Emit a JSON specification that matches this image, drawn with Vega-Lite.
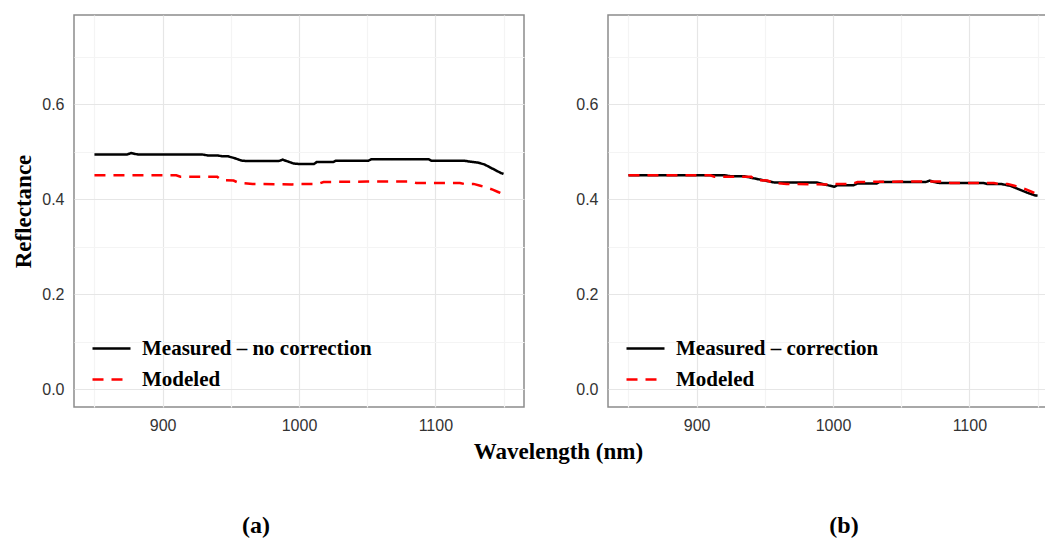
{
  "$schema": "https://vega.github.io/schema/vega-lite/v6.json",
  "background": "white",
  "padding": {"left": 12, "top": 14, "right": 0, "bottom": 0},
  "datasets": {
    "left": [
      {"series": "Measured – no correction", "wl": 850, "r": 0.494},
      {"series": "Measured – no correction", "wl": 874, "r": 0.494},
      {"series": "Measured – no correction", "wl": 877, "r": 0.497},
      {"series": "Measured – no correction", "wl": 880, "r": 0.495},
      {"series": "Measured – no correction", "wl": 882, "r": 0.494},
      {"series": "Measured – no correction", "wl": 929, "r": 0.494},
      {"series": "Measured – no correction", "wl": 933, "r": 0.492},
      {"series": "Measured – no correction", "wl": 940, "r": 0.492},
      {"series": "Measured – no correction", "wl": 944, "r": 0.490},
      {"series": "Measured – no correction", "wl": 948, "r": 0.490},
      {"series": "Measured – no correction", "wl": 953, "r": 0.486},
      {"series": "Measured – no correction", "wl": 958, "r": 0.481},
      {"series": "Measured – no correction", "wl": 962, "r": 0.480},
      {"series": "Measured – no correction", "wl": 985, "r": 0.480},
      {"series": "Measured – no correction", "wl": 988, "r": 0.483},
      {"series": "Measured – no correction", "wl": 991, "r": 0.480},
      {"series": "Measured – no correction", "wl": 996, "r": 0.475},
      {"series": "Measured – no correction", "wl": 1000, "r": 0.474},
      {"series": "Measured – no correction", "wl": 1011, "r": 0.474},
      {"series": "Measured – no correction", "wl": 1013, "r": 0.478},
      {"series": "Measured – no correction", "wl": 1025, "r": 0.478},
      {"series": "Measured – no correction", "wl": 1027, "r": 0.481},
      {"series": "Measured – no correction", "wl": 1051, "r": 0.481},
      {"series": "Measured – no correction", "wl": 1053, "r": 0.484},
      {"series": "Measured – no correction", "wl": 1095, "r": 0.484},
      {"series": "Measured – no correction", "wl": 1097, "r": 0.481},
      {"series": "Measured – no correction", "wl": 1121, "r": 0.481},
      {"series": "Measured – no correction", "wl": 1125, "r": 0.479},
      {"series": "Measured – no correction", "wl": 1131, "r": 0.477},
      {"series": "Measured – no correction", "wl": 1136, "r": 0.473},
      {"series": "Measured – no correction", "wl": 1140, "r": 0.467},
      {"series": "Measured – no correction", "wl": 1144, "r": 0.461},
      {"series": "Measured – no correction", "wl": 1148, "r": 0.455},
      {"series": "Measured – no correction", "wl": 1150, "r": 0.453},
      {"series": "Modeled", "wl": 850, "r": 0.450},
      {"series": "Modeled", "wl": 910, "r": 0.450},
      {"series": "Modeled", "wl": 913, "r": 0.447},
      {"series": "Modeled", "wl": 940, "r": 0.447},
      {"series": "Modeled", "wl": 943, "r": 0.440},
      {"series": "Modeled", "wl": 952, "r": 0.439},
      {"series": "Modeled", "wl": 956, "r": 0.434},
      {"series": "Modeled", "wl": 966, "r": 0.432},
      {"series": "Modeled", "wl": 995, "r": 0.431},
      {"series": "Modeled", "wl": 1000, "r": 0.432},
      {"series": "Modeled", "wl": 1014, "r": 0.432},
      {"series": "Modeled", "wl": 1018, "r": 0.436},
      {"series": "Modeled", "wl": 1050, "r": 0.437},
      {"series": "Modeled", "wl": 1082, "r": 0.437},
      {"series": "Modeled", "wl": 1086, "r": 0.434},
      {"series": "Modeled", "wl": 1118, "r": 0.434},
      {"series": "Modeled", "wl": 1121, "r": 0.432},
      {"series": "Modeled", "wl": 1128, "r": 0.432},
      {"series": "Modeled", "wl": 1133, "r": 0.428},
      {"series": "Modeled", "wl": 1138, "r": 0.424},
      {"series": "Modeled", "wl": 1142, "r": 0.420},
      {"series": "Modeled", "wl": 1146, "r": 0.415},
      {"series": "Modeled", "wl": 1150, "r": 0.410}
    ],
    "right": [
      {"series": "Measured – correction", "wl": 850, "r": 0.450},
      {"series": "Measured – correction", "wl": 921, "r": 0.450},
      {"series": "Measured – correction", "wl": 925, "r": 0.448},
      {"series": "Measured – correction", "wl": 935, "r": 0.448},
      {"series": "Measured – correction", "wl": 945, "r": 0.442},
      {"series": "Measured – correction", "wl": 957, "r": 0.435},
      {"series": "Measured – correction", "wl": 988, "r": 0.435},
      {"series": "Measured – correction", "wl": 995, "r": 0.430},
      {"series": "Measured – correction", "wl": 1001, "r": 0.426},
      {"series": "Measured – correction", "wl": 1003, "r": 0.429},
      {"series": "Measured – correction", "wl": 1015, "r": 0.429},
      {"series": "Measured – correction", "wl": 1018, "r": 0.433},
      {"series": "Measured – correction", "wl": 1032, "r": 0.433},
      {"series": "Measured – correction", "wl": 1034, "r": 0.436},
      {"series": "Measured – correction", "wl": 1068, "r": 0.436},
      {"series": "Measured – correction", "wl": 1071, "r": 0.439},
      {"series": "Measured – correction", "wl": 1074, "r": 0.436},
      {"series": "Measured – correction", "wl": 1078, "r": 0.434},
      {"series": "Measured – correction", "wl": 1110, "r": 0.434},
      {"series": "Measured – correction", "wl": 1113, "r": 0.432},
      {"series": "Measured – correction", "wl": 1123, "r": 0.432},
      {"series": "Measured – correction", "wl": 1130, "r": 0.428},
      {"series": "Measured – correction", "wl": 1136, "r": 0.421},
      {"series": "Measured – correction", "wl": 1142, "r": 0.414},
      {"series": "Measured – correction", "wl": 1148, "r": 0.408},
      {"series": "Measured – correction", "wl": 1150, "r": 0.407},
      {"series": "Modeled", "wl": 850, "r": 0.450},
      {"series": "Modeled", "wl": 910, "r": 0.450},
      {"series": "Modeled", "wl": 913, "r": 0.447},
      {"series": "Modeled", "wl": 940, "r": 0.447},
      {"series": "Modeled", "wl": 943, "r": 0.440},
      {"series": "Modeled", "wl": 952, "r": 0.439},
      {"series": "Modeled", "wl": 956, "r": 0.434},
      {"series": "Modeled", "wl": 966, "r": 0.432},
      {"series": "Modeled", "wl": 995, "r": 0.431},
      {"series": "Modeled", "wl": 1000, "r": 0.432},
      {"series": "Modeled", "wl": 1014, "r": 0.432},
      {"series": "Modeled", "wl": 1018, "r": 0.436},
      {"series": "Modeled", "wl": 1050, "r": 0.437},
      {"series": "Modeled", "wl": 1082, "r": 0.437},
      {"series": "Modeled", "wl": 1086, "r": 0.434},
      {"series": "Modeled", "wl": 1118, "r": 0.434},
      {"series": "Modeled", "wl": 1121, "r": 0.432},
      {"series": "Modeled", "wl": 1128, "r": 0.432},
      {"series": "Modeled", "wl": 1133, "r": 0.428},
      {"series": "Modeled", "wl": 1138, "r": 0.424},
      {"series": "Modeled", "wl": 1142, "r": 0.420},
      {"series": "Modeled", "wl": 1146, "r": 0.415},
      {"series": "Modeled", "wl": 1150, "r": 0.410}
    ]
  },
  "spacing": 84,
  "bounds": "flush",
  "hconcat": [
    {
      "width": 450,
      "height": 392,
      "data": {"name": "left"},
      "title": {"text": "(a)", "orient": "bottom", "anchor": "middle", "offset": 51, "dx": -43, "font": "Liberation Serif", "fontSize": 24, "fontWeight": "bold", "color": "black"},
      "mark": {"type": "line", "strokeWidth": 2.5, "clip": true},
      "encoding": {
        "x": {"field": "wl", "type": "quantitative", "scale": {"domain": [835, 1165], "nice": false, "zero": false},
              "axis": {"title": "Wavelength (nm)", "titleX": 484, "values": [850, 900, 950, 1000, 1050, 1100, 1150], "format": "d",
                       "labelExpr": "datum.value % 100 == 0 ? datum.label : ''"}},
        "y": {"field": "r", "type": "quantitative", "scale": {"domain": [-0.0375, 0.7875], "nice": false, "zero": false},
              "axis": {"title": "Reflectance"}},
        "color": {"field": "series", "type": "nominal", "scale": {"domain": ["Measured – no correction", "Modeled"], "range": ["#000000", "#ff0000"]}, "legend": {"title": null}},
        "strokeDash": {"field": "series", "type": "nominal", "scale": {"domain": ["Measured – no correction", "Modeled"], "range": [[1, 0], [11, 8]]}, "legend": {"title": null}}
      }
    },
    {
      "width": 450,
      "height": 392,
      "data": {"name": "right"},
      "title": {"text": "(b)", "orient": "bottom", "anchor": "middle", "offset": 81, "dx": 11, "font": "Liberation Serif", "fontSize": 24, "fontWeight": "bold", "color": "black"},
      "mark": {"type": "line", "strokeWidth": 2.5, "clip": true},
      "encoding": {
        "x": {"field": "wl", "type": "quantitative", "scale": {"domain": [835, 1165], "nice": false, "zero": false},
              "axis": {"title": null, "values": [850, 900, 950, 1000, 1050, 1100, 1150], "format": "d",
                       "labelExpr": "datum.value % 100 == 0 ? datum.label : ''"}},
        "y": {"field": "r", "type": "quantitative", "scale": {"domain": [-0.0375, 0.7875], "nice": false, "zero": false},
              "axis": {"title": null}},
        "color": {"field": "series", "type": "nominal", "scale": {"domain": ["Measured – correction", "Modeled"], "range": ["#000000", "#ff0000"]}, "legend": {"title": null}},
        "strokeDash": {"field": "series", "type": "nominal", "scale": {"domain": ["Measured – correction", "Modeled"], "range": [[1, 0], [11, 8]]}, "legend": {"title": null}}
      }
    }
  ],
  "resolve": {
    "scale": {"color": "independent", "strokeDash": "independent", "x": "independent", "y": "independent"},
    "legend": {"color": "independent", "strokeDash": "independent"}
  },
  "config": {
    "view": {"stroke": "#8c8c8c", "strokeWidth": 1.5},
    "axis": {
      "domain": false,
      "labelFont": "Liberation Sans",
      "labelFontSize": 16,
      "labelColor": "#333333",
      "tickColor": "#333333",
      "tickSize": 4,
      "labelPadding": 6,
      "titleFont": "Liberation Serif",
      "titleFontSize": 23,
      "titleFontWeight": "bold",
      "titleColor": "#000000",
      "gridColor": "#ebebeb",
      "gridWidth": 1.2
    },
    "axisX": {
      "titlePadding": 7,
      "gridColor": {"condition": {"test": "datum.value % 100 == 0", "value": "#e6e6e6"}, "value": "#f4f4f4"},
      "tickOpacity": {"condition": {"test": "datum.value % 100 == 0", "value": 1}, "value": 0}
    },
    "axisY": {
      "titlePadding": 6,
      "values": [0, 0.1, 0.2, 0.3, 0.4, 0.5, 0.6, 0.7],
      "labelExpr": "round(datum.value * 10) % 2 == 0 ? format(datum.value, '.1f') : ''",
      "gridColor": {"condition": {"test": "round(datum.value * 10) % 2 == 0", "value": "#e6e6e6"}, "value": "#f4f4f4"},
      "tickOpacity": {"condition": {"test": "round(datum.value * 10) % 2 == 0", "value": 1}, "value": 0}
    },
    "legend": {
      "orient": "bottom-left",
      "offset": 17,
      "padding": 0,
      "labelFont": "Liberation Serif",
      "labelFontSize": 21,
      "labelFontWeight": "bold",
      "labelColor": "#000000",
      "labelLimit": 400,
      "symbolType": "stroke",
      "symbolSize": 1444,
      "symbolStrokeWidth": 2.5,
      "labelOffset": 10,
      "rowPadding": -13
    }
  }
}
